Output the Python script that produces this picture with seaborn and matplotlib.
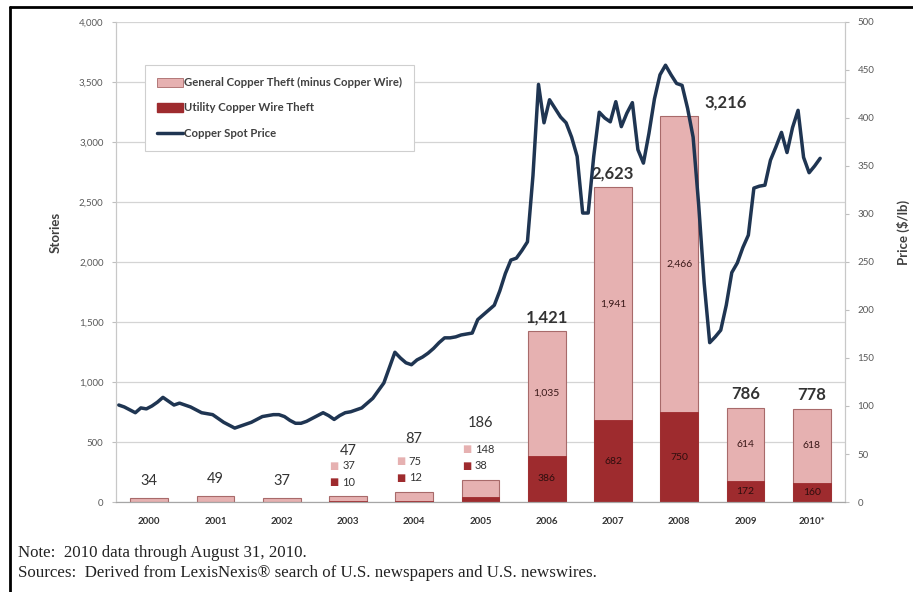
import matplotlib
matplotlib.use('Agg')
import matplotlib.pyplot as plt
from matplotlib.patches import Patch
from matplotlib.lines import Line2D
import matplotlib.ticker as mticker
import numpy as np
import pandas as pd
import seaborn as sns

sns.set_style('white')
plt.rcParams['font.family'] = ['Lato', 'DejaVu Sans']

# stories per year
years = ['2000', '2001', '2002', '2003', '2004', '2005', '2006', '2007', '2008', '2009', '2010*']
general = [34, 49, 37, 37, 75, 148, 1035, 1941, 2466, 614, 618]
utility = [0, 0, 0, 10, 12, 38, 386, 682, 750, 172, 160]
totals = [34, 49, 37, 47, 87, 186, 1421, 2623, 3216, 786, 778]

# copper spot price, monthly Jan 2000 - Aug 2010 (cents/lb)
price = [101, 99, 96, 93, 98, 97, 100, 104, 109, 105, 101, 103,
         101, 99, 96, 93, 92, 91, 87, 83, 80, 77, 79, 81,
         83, 86, 89, 90, 91, 91, 89, 85, 82, 82, 84, 87,
         90, 93, 90, 86, 90, 93, 94, 96, 98, 103, 108, 116,
         124, 140, 156, 150, 145, 143, 148, 151, 155, 160, 166, 171,
         171, 172, 174, 175, 176, 190, 195, 200, 205, 220, 238, 252,
         254, 262, 271, 340, 435, 395, 419, 410, 401, 395, 380, 360,
         301, 301, 360, 406, 400, 396, 417, 391, 405, 416, 367, 353,
         384, 420, 445, 455, 445, 436, 434, 410, 380, 310, 228, 166,
         172, 179, 205, 239, 249, 265, 278, 327, 329, 330, 356, 370,
         385, 364, 390, 408, 359, 343, 350, 358]

pink = '#e6b1b1'
pink_edge = '#a86a6a'
red = '#9e2b2e'
navy = '#1f3552'
txt = '#333333'

bars = pd.DataFrame({'year': years, 'general': general, 'utility': utility, 'total': totals})
line = pd.DataFrame({'pos': -0.5 + (np.arange(len(price)) + 0.5) / 12, 'price': price})

fig = plt.figure(figsize=(9.13, 5.92), dpi=100)
ax = fig.add_axes([116 / 913, 90 / 592, 729 / 913, 480 / 592])

sns.barplot(data=bars, x='year', y='total', color=pink, saturation=1, width=0.57,
            edgecolor=pink_edge, linewidth=0.8, ax=ax)
sns.barplot(data=bars, x='year', y='utility', color=red, saturation=1, width=0.57,
            edgecolor=red, linewidth=0.6, ax=ax)

ax.set_ylim(0, 4000)
ax.yaxis.set_major_locator(mticker.MultipleLocator(500))
ax.yaxis.set_major_formatter(mticker.StrMethodFormatter('{x:,.0f}'))
ax.yaxis.grid(True, color='#d4d4d4', lw=0.9)
ax.set_axisbelow(True)
ax.set_xlabel('')
ax.set_ylabel('Stories', fontsize=9.5, fontweight='bold', color='#404040')
ax.yaxis.set_label_coords(-0.075, 0.5625)
ax.tick_params(axis='y', labelsize=7, colors='#595959', length=3, pad=6, color='#bfbfbf')
ax.tick_params(axis='x', labelsize=7, colors=txt, length=0, pad=11)
for lab in ax.get_xticklabels():
    lab.set_fontweight('bold')
ax.set_xticks(np.arange(-0.5, 11, 1), minor=True)
ax.tick_params(axis='x', which='minor', length=3, color='#a6a6a6')

# labels on the big bars (2008 total sits to the right of the price line)
shift = {8: 33}
for i in range(6, 11):
    ax.annotate(f'{totals[i]:,}', xy=(i, totals[i]), xytext=(shift.get(i, 0), 4),
                textcoords='offset points', ha='center', va='bottom', fontsize=12,
                fontweight='bold', color=txt)
    ax.text(i, utility[i] + general[i] / 2, f'{general[i]:,}', ha='center', va='center',
            fontsize=7.5, color='#3a1818')
    ax.text(i, utility[i] / 2, f'{utility[i]:,}', ha='center', va='center',
            fontsize=7.5, color='#2e0e0e')

# small bars
for i in range(0, 3):
    ax.annotate(f'{totals[i]}', xy=(i, totals[i]), xytext=(0, 7), textcoords='offset points',
                ha='center', va='bottom', fontsize=10.5, color=txt)

tops = {3: 33, 4: 38, 5: 41}
for i in range(3, 6):
    ax.annotate(f'{totals[i]}', xy=(i, totals[i]), xytext=(0, tops[i]), textcoords='offset points',
                ha='center', va='center', fontsize=10.5, color=txt)
    for val, col, off in [(general[i], pink, 22), (utility[i], red, 10)]:
        ax.annotate('\u25a0', xy=(i, totals[i]), xytext=(-10, off), textcoords='offset points',
                    ha='center', va='center', fontsize=7, color=col, family=['DejaVu Sans'])
        ax.annotate(f'{val}', xy=(i, totals[i]), xytext=(-4, off), textcoords='offset points',
                    ha='left', va='center', fontsize=8, color=txt)

# price line
ax2 = ax.twinx()
sns.lineplot(data=line, x='pos', y='price', color=navy, lw=2.5, sort=False, ax=ax2)
ax2.set_ylim(0, 500)
ax2.yaxis.set_major_locator(mticker.MultipleLocator(50))
ax2.set_ylabel('Price ($/lb)', fontsize=9.5, fontweight='bold', color='#404040', rotation=90)
ax2.yaxis.set_label_coords(1.071, 0.5625)
ax2.tick_params(axis='y', labelsize=7, colors='#595959', length=3, pad=6, color='#bfbfbf')
ax2.set_xlabel('')
ax.set_xlim(-0.5, 10.5)

for a in (ax, ax2):
    a.spines['top'].set_visible(False)
    a.spines['left'].set_color('#c8c8c8')
    a.spines['right'].set_color('#c8c8c8')
    a.spines['bottom'].set_color('#a6a6a6')

handles = [Patch(facecolor=pink, edgecolor=pink_edge, lw=0.6),
           Patch(facecolor=red, edgecolor=red),
           Line2D([0], [0], color=navy, lw=2.5)]
labels = ['General Copper Theft (minus Copper Wire)', 'Utility Copper Wire Theft', 'Copper Spot Price']
leg = ax2.legend(handles, labels, loc='upper left', bbox_to_anchor=(0.04, 0.91),
                 prop={'size': 8.2, 'weight': 'bold'}, labelcolor='#404040',
                 handlelength=2.3, handleheight=0.8, handletextpad=0.05, labelspacing=1.25,
                 borderpad=1.05, borderaxespad=0, frameon=True, fancybox=False, framealpha=1,
                 edgecolor='#cfcfcf')
leg.get_frame().set_linewidth(0.8)

# notes
fig.text(18 / 913, 1 - 553 / 592, 'Note:  2010 data through August 31, 2010.',
         family='Liberation Serif', fontsize=12.2, va='center', color='#222222')
fig.text(18 / 913, 1 - 573 / 592,
         'Sources:  Derived from LexisNexis\u00ae search of U.S. newspapers and U.S. newswires.',
         family='Liberation Serif', fontsize=12.2, va='center', color='#222222')

# outer frame
fig.add_artist(Line2D([10 / 913, 10 / 913], [0, 1 - 7 / 592], color='black', lw=2,
                      transform=fig.transFigure))
fig.add_artist(Line2D([10 / 913, 1], [1 - 7 / 592, 1 - 7 / 592], color='black', lw=2,
                      transform=fig.transFigure))

fig.savefig('out.png', dpi=100)
